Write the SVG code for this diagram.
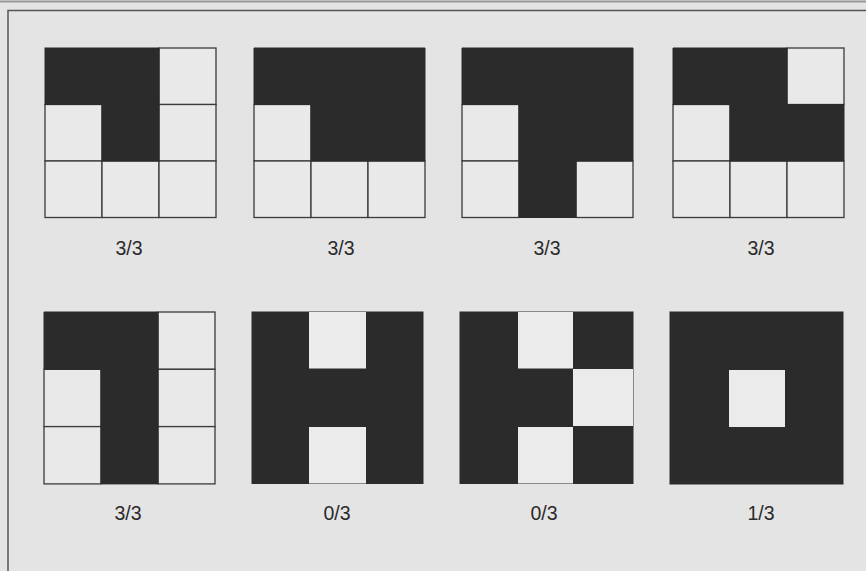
<svg xmlns="http://www.w3.org/2000/svg" width="866" height="571" viewBox="0 0 866 571">
<style>
.bg{fill:#e4e4e4}
.frame{fill:none;stroke:#555;stroke-width:1.5}
.w{fill:#e9e9e9;stroke:#3a3a3a;stroke-width:1.3}
.b{fill:#2b2b2b;stroke:#2b2b2b;stroke-width:1}
.lbl{font-family:"Liberation Sans",Arial,sans-serif;font-size:19.5px;fill:#2a2a2a;text-anchor:middle}
</style>
<defs>
<rect id="cw" class="w" width="57" height="56.5"/>
<rect id="cw2" class="w" width="57" height="57.3"/>
</defs>
<rect class="bg" width="866" height="571"/>
<line x1="0" y1="1.5" x2="866" y2="1.5" stroke="#999" stroke-width="2"/>
<path class="frame" d="M8,571 V10.5 H866"/>

<g id="g1" transform="translate(45,48)">
<use href="#cw" x="114" y="0"/><use href="#cw" x="0" y="56.5"/><use href="#cw" x="114" y="56.5"/>
<use href="#cw" x="0" y="113"/><use href="#cw" x="57" y="113"/><use href="#cw" x="114" y="113"/>
<rect class="b" x="0" y="0" width="114" height="56.5"/><rect class="b" x="57" y="56.5" width="57" height="56.5"/>
<text class="lbl" x="84" y="207">3/3</text>
</g>

<g id="g2" transform="translate(254,48)">
<use href="#cw" x="0" y="56.5"/>
<use href="#cw" x="0" y="113"/><use href="#cw" x="57" y="113"/><use href="#cw" x="114" y="113"/>
<path class="b" d="M0,0 H171 V113 H57 V56.5 H0 Z"/>
<text class="lbl" x="87" y="207">3/3</text>
</g>

<g id="g3" transform="translate(462,48)">
<use href="#cw" x="0" y="56.5"/><use href="#cw" x="0" y="113"/><use href="#cw" x="114" y="113"/>
<path class="b" d="M0,0 H171 V113 H114 V169.5 H57 V56.5 H0 Z"/>
<text class="lbl" x="85" y="207">3/3</text>
</g>

<g id="g4" transform="translate(673,48)">
<use href="#cw" x="114" y="0"/><use href="#cw" x="0" y="56.5"/>
<use href="#cw" x="0" y="113"/><use href="#cw" x="57" y="113"/><use href="#cw" x="114" y="113"/>
<path class="b" d="M0,0 H114 V56.5 H171 V113 H57 V56.5 H0 Z"/>
<text class="lbl" x="88" y="207">3/3</text>
</g>

<g id="g5" transform="translate(44,312)">
<use href="#cw2" x="114" y="0"/><use href="#cw2" x="0" y="57.3"/><use href="#cw2" x="114" y="57.3"/>
<use href="#cw2" x="0" y="114.6"/><use href="#cw2" x="114" y="114.6"/>
<path class="b" d="M0,0 H114 V171.9 H57 V57.3 H0 Z"/>
<text class="lbl" x="84" y="208">3/3</text>
</g>

<g id="g6" transform="translate(252,312)">
<rect class="b" x="0" y="0" width="171" height="171.5"/>
<rect x="57" y="0" width="57" height="56.5" fill="#ebebeb"/>
<rect x="57" y="115" width="57" height="56.5" fill="#ebebeb"/>
<text class="lbl" x="85" y="208">0/3</text>
</g>

<g id="g7" transform="translate(460,312)">
<rect class="b" x="0" y="0" width="173" height="171.5"/>
<rect x="58" y="0" width="55" height="56.5" fill="#ebebeb"/>
<rect x="113" y="57" width="60" height="57" fill="#ebebeb"/>
<rect x="58" y="115" width="55" height="56.5" fill="#ebebeb"/>
<text class="lbl" x="84" y="208">0/3</text>
</g>

<g id="g8" transform="translate(670,312)">
<rect class="b" x="0" y="0" width="173" height="172"/>
<rect x="59" y="58" width="56" height="57" fill="#ebebeb"/>
<text class="lbl" x="91" y="208">1/3</text>
</g>
</svg>
